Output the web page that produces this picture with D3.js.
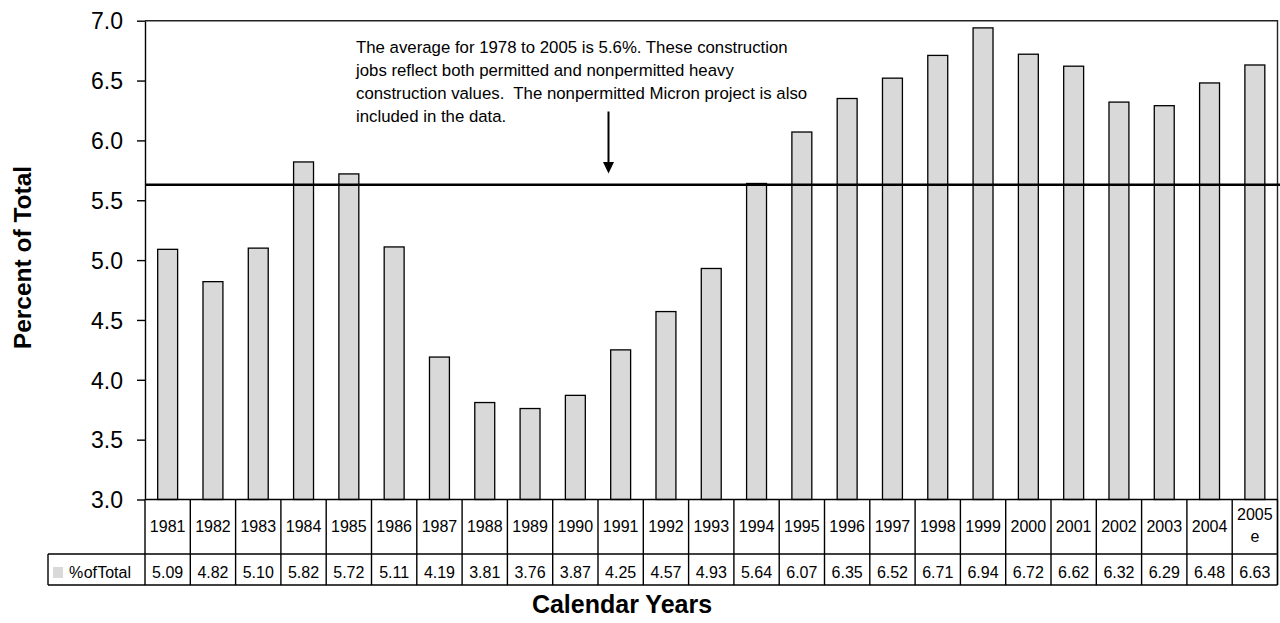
<!DOCTYPE html>
<html>
<head>
<meta charset="utf-8">
<script src="https://cdn.jsdelivr.net/npm/d3@7"></script>
<style>
  html, body { margin: 0; padding: 0; background: #fff; }
  svg { display: block; font-family: "Liberation Sans", Arial, sans-serif; }
</style>
</head>
<body>
<svg id="chart" width="1280" height="623"></svg>
<script>
// ---- data ----
const years = ["1981","1982","1983","1984","1985","1986","1987","1988","1989","1990","1991","1992","1993","1994","1995","1996","1997","1998","1999","2000","2001","2002","2003","2004","2005e"];
const pctOfTotal = [5.09,4.82,5.10,5.82,5.72,5.11,4.19,3.81,3.76,3.87,4.25,4.57,4.93,5.64,6.07,6.35,6.52,6.71,6.94,6.72,6.62,6.32,6.29,6.48,6.63];
const yTicks = [3.0,3.5,4.0,4.5,5.0,5.5,6.0,6.5,7.0];
const averageValue = [5.63];
const seriesName = ["% of Total"];
const yTitle = ["Percent of Total"];
const xTitle = ["Calendar Years"];
const noteLines = [
  "The average for 1978 to 2005 is 5.6%. These construction",
  "jobs reflect both permitted and nonpermitted heavy",
  "construction values.  The nonpermitted Micron project is also",
  "included in the data."
];

// ---- layout ----
const svg = d3.select("#chart");
const L = 145, R = 1277.5, T = 20.7, B = 499.5;
const rowYearBottom = 554, rowValBottom = 585, legendLeft = 48;

const x = d3.scaleBand().domain(years).range([L, R]).padding(0);
const y = d3.scaleLinear().domain([3, 7]).range([B, T]);
const barW = x.bandwidth() * 0.44;

// plot border (top & right)
svg.append("path")
  .attr("d", `M${L},${T}H${R}V${rowValBottom}`)
  .attr("fill", "none").attr("stroke", "#222").attr("stroke-width", 1.4);

// bars
svg.append("g").selectAll("rect")
  .data(years.map((yr, i) => ({yr, v: pctOfTotal[i]})))
  .join("rect")
  .attr("x", d => x(d.yr) + x.bandwidth()/2 - barW/2)
  .attr("y", d => y(d.v))
  .attr("width", barW)
  .attr("height", d => y(3) - y(d.v))
  .attr("fill", "#d9d9d9")
  .attr("stroke", "#000")
  .attr("stroke-width", 1.3);

// average line
svg.append("line")
  .attr("x1", L).attr("x2", 1280)
  .attr("y1", y(averageValue[0])).attr("y2", y(averageValue[0]))
  .attr("stroke", "#000").attr("stroke-width", 2.6);

// y axis
const yAxis = d3.axisLeft(y).tickValues(yTicks).tickFormat(d3.format(".1f"))
  .tickSize(8).tickPadding(14).tickSizeOuter(0);
const gy = svg.append("g").attr("transform", `translate(${L},0)`).call(yAxis);
gy.select(".domain").attr("stroke", "#000").attr("stroke-width", 1.4);
gy.selectAll(".tick line").attr("stroke", "#000").attr("stroke-width", 1.4);
gy.selectAll(".tick text")
  .attr("font-family", '"Liberation Sans", Arial, sans-serif')
  .attr("font-size", 23).attr("fill", "#000").attr("dy", "0.36em");

// axis line at bottom of plot (top of table)
svg.append("line").attr("x1", L).attr("x2", R).attr("y1", B).attr("y2", B)
  .attr("stroke", "#000").attr("stroke-width", 1.4);

// ---- data table ----
const tbl = svg.append("g");
const bounds = years.map(yr => x(yr)).concat([R]);
tbl.selectAll("line.v").data(bounds).join("line")
  .attr("x1", d => d).attr("x2", d => d)
  .attr("y1", B).attr("y2", rowValBottom)
  .attr("stroke", "#000").attr("stroke-width", 1.4);
tbl.append("line").attr("x1", legendLeft).attr("x2", R)
  .attr("y1", rowYearBottom).attr("y2", rowYearBottom)
  .attr("stroke", "#000").attr("stroke-width", 1.4);
tbl.append("line").attr("x1", legendLeft).attr("x2", R)
  .attr("y1", rowValBottom).attr("y2", rowValBottom)
  .attr("stroke", "#000").attr("stroke-width", 1.4);
tbl.append("line").attr("x1", legendLeft).attr("x2", legendLeft)
  .attr("y1", rowYearBottom).attr("y2", rowValBottom)
  .attr("stroke", "#000").attr("stroke-width", 1.4);

// year labels
tbl.selectAll("text.yr").data(years).join("text")
  .attr("class", "yr")
  .attr("x", d => x(d) + x.bandwidth()/2)
  .attr("text-anchor", "middle")
  .attr("font-size", 16).attr("fill", "#000")
  .each(function(d) {
    const t = d3.select(this);
    if (d.endsWith("e")) {
      t.append("tspan").attr("x", x(d) + x.bandwidth()/2).attr("y", 520).text(d.slice(0, -1));
      t.append("tspan").attr("x", x(d) + x.bandwidth()/2).attr("y", 542).text("e");
    } else {
      t.attr("y", 532).text(d);
    }
  });

// values
tbl.selectAll("text.val").data(pctOfTotal).join("text")
  .attr("class", "val")
  .attr("x", (d, i) => x(years[i]) + x.bandwidth()/2)
  .attr("y", 577.5)
  .attr("text-anchor", "middle")
  .attr("font-size", 16).attr("fill", "#000")
  .text(d => d.toFixed(2));

// legend key
tbl.append("rect").attr("x", 53).attr("y", 567).attr("width", 10).attr("height", 11)
  .attr("fill", "#d9d9d9");
tbl.append("text").attr("x", 69).attr("y", 577.5)
  .attr("font-size", 16).attr("fill", "#000")
  .style("word-spacing", "-4px")
  .text(seriesName[0]);

// ---- annotation ----
const note = svg.append("text").attr("font-size", 16.8).attr("fill", "#000")
  .style("white-space", "pre");
noteLines.forEach((ln, i) => {
  note.append("tspan").attr("x", 356).attr("y", 52.5 + i * 23.3).text(ln);
});

// arrow
const ax = 608.5;
svg.append("line").attr("x1", ax).attr("x2", ax).attr("y1", 111.5).attr("y2", 163)
  .attr("stroke", "#000").attr("stroke-width", 2);
svg.append("path")
  .attr("d", `M${ax-5.5},${162} L${ax+5.5},${162} L${ax},${173.5} Z`)
  .attr("fill", "#000");

// ---- titles ----
svg.append("text")
  .attr("transform", `translate(30.5,257.5) rotate(-90)`)
  .attr("text-anchor", "middle")
  .attr("font-size", 24.5).attr("font-weight", "bold").attr("fill", "#000")
  .text(yTitle[0]);

svg.append("text")
  .attr("x", 622).attr("y", 612.5)
  .attr("text-anchor", "middle")
  .attr("font-size", 25).attr("font-weight", "bold").attr("fill", "#000")
  .text(xTitle[0]);
</script>
</body>
</html>
